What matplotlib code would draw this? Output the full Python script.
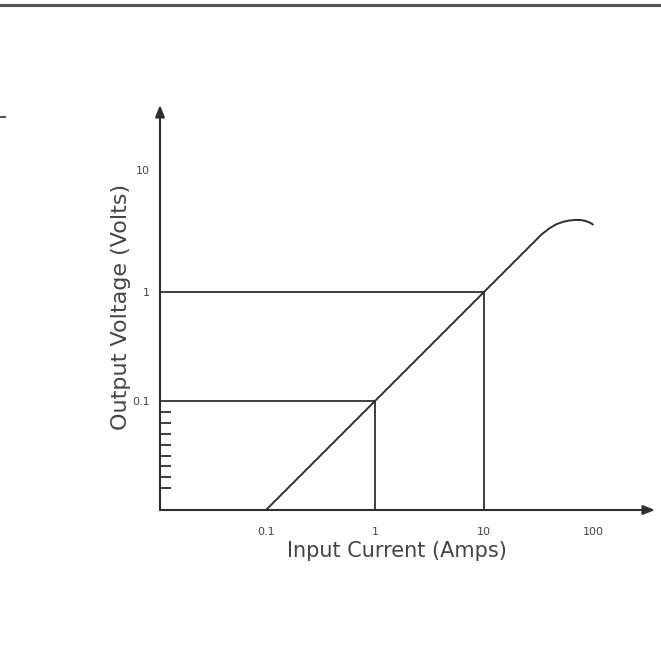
import matplotlib
matplotlib.use("Agg")
import matplotlib.pyplot as plt
import matplotlib.transforms as mtransforms
import numpy as np

# Data
curve_x = [0.1, 1, 10, 34, 40, 46, 53, 60, 68, 77, 86, 95, 101]
curve_y = [0.01, 0.1, 1, 3.4, 3.85, 4.18, 4.4, 4.52, 4.58, 4.58, 4.48, 4.3, 4.12]
guide_points = [(1, 0.1), (10, 1)]
x_ticks = [0.1, 1, 10, 100]
x_labels = ["0.1", "1", "10", "100"]
y_ticks = [0.1, 1, 10]
y_labels = ["0.1", "1", "10"]
minor_y = [0.1 * 10 ** (-k / 10) for k in range(1, 9)]

line_col = "#2e2e2e"
text_col = "#444444"
plt.rcParams['font.family'] = ['DejaVu Sans']

W = 661.0
fig = plt.figure(figsize=(6.61, 6.61), dpi=100)
ax_left, ax_right, ax_top, ax_bottom = 160, 655, 105, 510
ax = fig.add_axes([ax_left/W, 1 - ax_bottom/W, (ax_right-ax_left)/W, (ax_bottom-ax_top)/W])
ax.set_xscale("log")
ax.set_yscale("log")
xdec = 109.0
ydec = 109.0
ax.set_xlim(10 ** (-(375 - ax_left)/xdec), 10 ** ((ax_right - 375)/xdec))
ax.set_ylim(0.01, 0.01 * 10 ** ((ax_bottom-ax_top)/ydec))
for s in ax.spines.values():
    s.set_visible(False)

# axes arrows
for tip in [(1, 0), (0, 1)]:
    ax.annotate("", xy=tip, xytext=(0, 0), xycoords="axes fraction",
                arrowprops=dict(arrowstyle="-|>,head_length=0.7,head_width=0.28", color=line_col, lw=1.5,
                                shrinkA=0, shrinkB=0))

# curve
ax.plot(curve_x, curve_y, color=line_col, lw=1.4, solid_capstyle="butt")
# guide lines
x0 = ax.get_xlim()[0]
for gx, gy in guide_points:
    ax.plot([x0, gx], [gy, gy], color=line_col, lw=1.3)
    ax.plot([gx, gx], [0.01, gy], color=line_col, lw=1.3)

ax.set_xticks(x_ticks)
ax.set_xticklabels(x_labels)
ax.set_yticks(y_ticks)
ax.set_yticklabels(y_labels)
ax.set_xticks([], minor=True)
ax.set_yticks(minor_y, minor=True)
ax.tick_params(axis="both", which="major", length=0, labelsize=8, colors=text_col)
ax.tick_params(axis="x", which="major", pad=12)
ax.tick_params(axis="y", which="major", pad=7)
ax.tick_params(axis="y", which="minor", direction="in", length=8, width=1.3, color=line_col)
ax.tick_params(axis="x", which="minor", length=0)

for lab in ax.get_yticklabels():
    if lab.get_text() == "10":
        lab.set_transform(lab.get_transform() + mtransforms.ScaledTranslation(0, 13/100, fig.dpi_scale_trans))

ax.set_xlabel("Input Current (Amps)", fontsize=15, color=text_col)
ax.set_ylabel("Output Voltage (Volts)", fontsize=16, color=text_col)
ax.xaxis.set_label_coords((397 - ax_left)/(ax_right-ax_left), -(551 - ax_bottom)/(ax_bottom-ax_top))
ax.xaxis.label.set_va("center")
ax.yaxis.set_label_coords((121 - ax_left)/(ax_right-ax_left), (ax_bottom - 307)/(ax_bottom-ax_top))
ax.yaxis.label.set_va("center")
ax.yaxis.label.set_ha("center")

# decorative top border and small dash
fig.add_artist(plt.Line2D([0, 1], [1 - 4.5/W, 1 - 4.5/W], color="#555555", lw=2.2))
fig.add_artist(plt.Line2D([0, 5/W], [1 - 117/W, 1 - 117/W], color="#555555", lw=1.5))

fig.savefig("out.png", dpi=100)
